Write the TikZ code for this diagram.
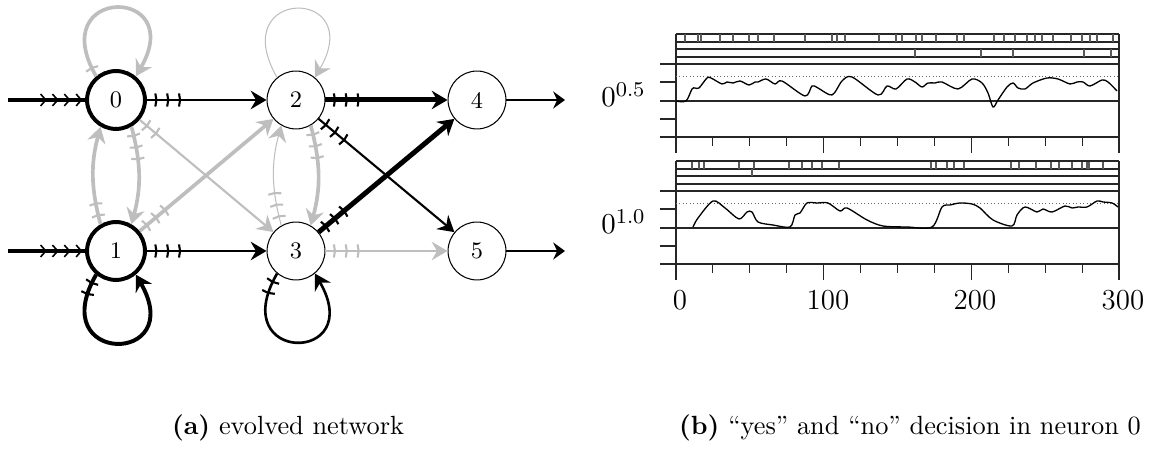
\documentclass[tikz,border=0pt]{standalone}
\usepackage{amsmath}
\usetikzlibrary{arrows.meta,decorations.markings,calc}
\definecolor{weak}{RGB}{190,190,190}
\definecolor{raster}{RGB}{90,90,90}

\tikzset{
  neuron/.style={circle, draw, minimum size=22pt, inner sep=0pt, font=\small},
  syn/.style={-{Stealth[length=6pt,width=7pt,inset=2pt]}},
  outsyn/.style={-{Stealth[length=4.5pt,width=6.5pt,inset=1.5pt]}},
  tickmark/.tip={Straight Barb[length=0.4pt,width=5pt,line width=0.8pt]},
  barb/.tip={Straight Barb[length=2pt,width=4.5pt,line width=0.6pt]},
  % n ticks near the source: end position = 4pt + (n-1)*4.5pt
  delay/.style={postaction={decorate,decoration={markings,
      mark=between positions 4pt and #1 step 4.5pt with {\arrow{tickmark}}}}},
  feed/.style={line width=1.5pt, postaction={decorate,decoration={markings,
      mark=at position -14.5pt with {\arrow{barb}},
      mark=at position -10pt with {\arrow{barb}},
      mark=at position -5.5pt with {\arrow{barb}},
      mark=at position -1pt with {\arrow{barb}}}}},
  axislabel/.style={font=\fontsize{11}{13}\selectfont},
}

\begin{document}
\begin{tikzpicture}[x=0.38pt, y=0.38pt]
\useasboundingbox (0,0) rectangle (1157,451);

% (a) network
\node[neuron, line width=1.5pt] (n0) at (116,351) {0};
\node[neuron, line width=1.5pt] (n1) at (116,200) {1};
\node[neuron] (n2) at (296,351) {2};
\node[neuron] (n3) at (296,200) {3};
\node[neuron] (n4) at (477,351) {4};
\node[neuron] (n5) at (477,200) {5};
\coordinate (i0) at (8,351);
\coordinate (i1) at (8,200);
\coordinate (o4) at (565,351);
\coordinate (o5) at (565,200);

% weak synapses
\draw[weak, syn, line width=1.4pt, delay=4.1pt] (n0.130) .. controls +(120:105) and +(60:105) .. (n0.50);
\draw[weak, syn, line width=0.4pt] (n2.130) .. controls +(120:105) and +(60:105) .. (n2.50);
\draw[weak, syn, line width=1.4pt, delay=8.6pt] (n1.120) to[bend left=15] (n0.240);
\draw[weak, syn, line width=1.4pt, delay=13.1pt] (n0.300) to[bend left=15] (n1.60);
\draw[weak, syn, line width=0.4pt, delay=13.1pt] (n3.120) to[bend left=15] (n2.240);
\draw[weak, syn, line width=1.4pt, delay=13.1pt] (n2.300) to[bend left=15] (n3.60);
\draw[weak, syn, line width=0.8pt, delay=8.6pt] (n0) -- (n3);
\draw[weak, syn, line width=1.4pt, delay=13.1pt] (n1) -- (n2);
\draw[weak, syn, line width=1.1pt, delay=13.1pt] (n3) -- (n5);

% strong synapses
\draw[feed] (i0) -- (n0);
\draw[feed] (i1) -- (n1);
\draw[syn, line width=1.1pt, delay=13.1pt] (n0) -- (n2);
\draw[syn, line width=1.1pt, delay=13.1pt] (n1) -- (n3);
\draw[syn, line width=1.9pt, delay=13.1pt] (n2) -- (n4);
\draw[syn, line width=1.9pt, delay=13.1pt] (n3) -- (n4);
\draw[syn, line width=0.8pt, delay=13.1pt] (n2) -- (n5);
\draw[syn, line width=1.5pt, delay=8.6pt] (n1.230) .. controls +(240:105) and +(300:105) .. (n1.310);
\draw[syn, line width=1pt, delay=8.6pt] (n3.230) .. controls +(240:105) and +(300:105) .. (n3.310);
\draw[outsyn, line width=0.5pt] (n4) -- (o4);
\draw[outsyn, line width=0.5pt] (n5) -- (o5);

% (b) frames of both traces
\foreach \dy in {0,-127}{
  \begin{scope}[shift={(0,\dy)}, black!85, line width=0.4pt]
    \foreach \y in {417,409,402,394} \draw (676,\y) -- (1119,\y);
    \foreach \y in {387,350,314} \draw (660,\y) -- (1119,\y);
    \foreach \y in {369,332} \draw (660,\y) -- (676,\y);
    \draw (676,417) -- (676,298) (1119,417) -- (1119,298);
    \draw[black!60, densely dotted, line width=0.3pt] (676,375) -- (1119,375);
    \foreach \k in {1,...,11}{
      \pgfmathsetmacro\len{mod(\k,4)==0 ? 16 : 9}
      \draw (676+36.92*\k,314) -- ++(0,-\len);
    }
  \end{scope}
}

% spike rasters
\foreach \x in {685,698,701,720,733,749,758,774,805,832,837,845,879,896,902,916,922,936,957,964,994,1004,1015,1027,1035,1042,1053,1071,1082,1090,1097,1113}
  \draw[raster] (\x,417) -- (\x,409);
\foreach \x in {915,981,1013,1084,1111}
  \draw[raster] (\x,402) -- (\x,394);
\foreach \x in {692,699,704,739,754,789,802,812,822,839,931,936,947,954,964,1011,1019,1036,1051,1059,1072,1082,1087,1089,1103}
  \draw[raster] (\x,289) -- (\x,282);
\draw[raster] (752,282) -- (752,275);

% membrane traces
\draw[line width=0.5pt] plot[smooth, tension=0.5] coordinates {
  (676,350) (686,350) (692,362) (695,363) (699,363) (707,373) (711,373) (722,367)
  (727,369) (733,368) (740,370) (749,366) (755,369) (758,369) (766,372) (775,367)
  (782,370) (805,355) (812,365) (818,363) (832,356) (842,370) (852,374) (878,356)
  (887,365) (896,362) (907,372) (915,369) (922,364) (928,368) (935,368) (942,369)
  (958,362) (972,372) (982,368) (988,358) (993,344) (998,351) (1007,364) (1013,368)
  (1018,363) (1025,362) (1033,368) (1047,373) (1058,372) (1070,367) (1077,369)
  (1083,369) (1090,365) (1102,371) (1108,369) (1117,360)};
\draw[line width=0.5pt] plot[smooth, tension=0.5] coordinates {
  (693,224) (698,233) (713,250) (725,243) (739,232) (747,239) (752,239) (758,229)
  (773,226) (790,224) (795,236) (800,238) (807,248) (817,248) (828,248) (840,240)
  (847,243) (867,231) (883,225) (907,224) (932,224) (942,244) (950,246) (960,248)
  (972,247) (980,243) (993,231) (1012,225) (1017,236) (1025,244) (1037,239)
  (1043,242) (1052,239) (1065,245) (1072,243) (1078,244) (1087,244) (1097,250)
  (1103,249) (1112,248) (1118,244)};

% axis labels
\node[axislabel, anchor=base east] (ylab0) at (655,344) {$0^{0.5}$};
\node[axislabel, anchor=base east] (ylab1) at (655,217) {$0^{1.0}$};
\foreach \v/\x in {0/680,100/828,200/975,300/1123}
  \node[axislabel, anchor=base] (xlab\v) at (\x,141) {\v};

% captions
\node (capa) at (288,23) {\textbf{(a)} evolved network};
\node (capb) at (910,23) {\textbf{(b)} “yes” and “no” decision in neuron 0};
\end{tikzpicture}
\end{document}
